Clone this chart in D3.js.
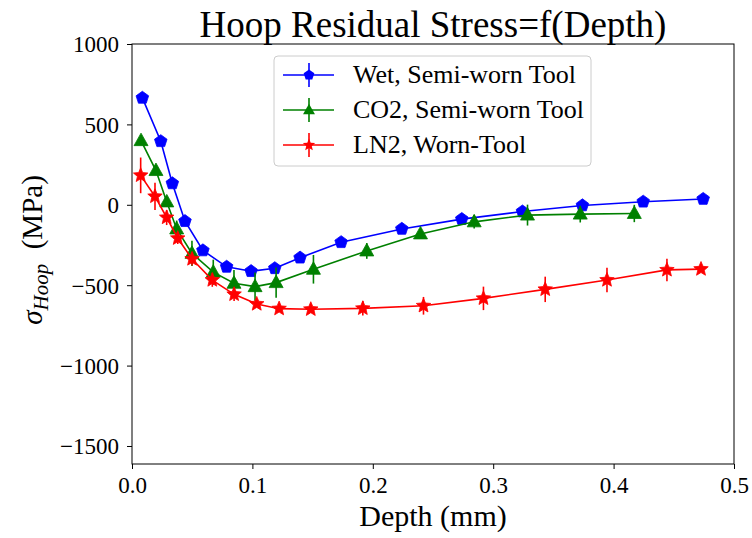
<!DOCTYPE html>
<html><head><meta charset="utf-8">
<script src="https://cdn.jsdelivr.net/npm/d3@7"></script>
<style>body{margin:0;background:#fff}svg{display:block}text{font-family:"Liberation Serif","DejaVu Serif",serif;fill:#000}</style>
</head><body><svg id="c" width="752" height="538"></svg>
<script>
const wetX = [0.0086,0.0239,0.0335,0.0440,0.0589,0.0786,0.0989,0.1186,0.1396,0.1737,0.2241,0.2739,0.3243,0.3741,0.4246,0.4744];
const wetY = [665,395,133,-102,-284,-386,-413,-395,-329,-233,-150,-89,-42,-4,19,36];
const wetErr = [15,15,15,15,12,12,12,12,25,12,12,12,12,12,12,12];
const co2X = [0.0075,0.0199,0.0289,0.0371,0.0498,0.0675,0.0847,0.1022,0.1197,0.1507,0.1950,0.2396,0.2842,0.3285,0.3723,0.4172];
const co2Y = [399,213,18,-150,-302,-419,-488,-509,-484,-401,-287,-181,-106,-64,-58,-54];
const co2Err = [15,15,20,52,78,78,83,88,94,89,49,20,42,65,52,54];
const ln2X = [0.0072,0.0191,0.0288,0.0380,0.0499,0.0667,0.0848,0.1036,0.1222,0.1485,0.1917,0.2421,0.2919,0.3432,0.3945,0.4443,0.4726];
const ln2Y = [183,52,-79,-208,-337,-468,-557,-617,-646,-650,-644,-628,-582,-526,-468,-405,-400];
const ln2Err = [111,85,47,36,40,42,42,15,10,10,45,55,73,79,76,70,12];
const xTicks = [0.0,0.1,0.2,0.3,0.4,0.5];
const yTicks = [1000,500,0,-500,-1000,-1500];
const seriesNames = ["Wet, Semi-worn Tool","CO2, Semi-worn Tool","LN2, Worn-Tool"];
const seriesColors = ["#0000ff","#008000","#ff0000"];
const seriesShapes = ["pentagon","triangle","star"];

const svg = d3.select("#c");
const L=132,R=734,T=44,B=464;
const x = d3.scaleLinear().domain([0,0.5]).range([L,R]);
const y = d3.scaleLinear().domain([-1612,1000]).range([B,T]);

function poly(n, r, inner){
  const pts=[];
  const k = inner ? 2*n : n;
  for(let i=0;i<k;i++){
    const a = -Math.PI/2 + i*Math.PI*2/k;
    const rr = inner ? (i%2===0? r : r*inner) : r;
    pts.push([rr*Math.cos(a), rr*Math.sin(a)]);
  }
  return "M"+pts.map(p=>p[0].toFixed(2)+","+p[1].toFixed(2)).join("L")+"Z";
}
const shapePath = {
  pentagon: poly(5,6.6),
  triangle: "M0,-7.5L7,5L-7,5Z",
  star: poly(5,7.6,0.45)
};

const series = [
  {xs:wetX, ys:wetY, es:wetErr},
  {xs:co2X, ys:co2Y, es:co2Err},
  {xs:ln2X, ys:ln2Y, es:ln2Err}
];

const plot = svg.append("g");
series.forEach((s,i)=>{
  const data = s.xs.map((v,j)=>({x:v,y:s.ys[j],e:s.es[j]}));
  const g = plot.append("g");
  g.selectAll("line.err").data(data).enter().append("line")
    .attr("x1",d=>x(d.x)).attr("x2",d=>x(d.x))
    .attr("y1",d=>y(d.y-d.e)).attr("y2",d=>y(d.y+d.e))
    .attr("stroke",seriesColors[i]).attr("stroke-width",1.6);
  g.append("path").datum(data)
    .attr("d",d3.line().x(d=>x(d.x)).y(d=>y(d.y)))
    .attr("fill","none").attr("stroke",seriesColors[i]).attr("stroke-width",1.6);
  g.selectAll("path.m").data(data).enter().append("path")
    .attr("d",shapePath[seriesShapes[i]])
    .attr("transform",d=>`translate(${x(d.x)},${y(d.y)})`)
    .attr("fill",seriesColors[i]).attr("stroke",seriesColors[i]).attr("stroke-width",0.8);
});

// frame
svg.append("rect").attr("x",L).attr("y",T).attr("width",R-L).attr("height",B-T)
  .attr("fill","none").attr("stroke","#000").attr("stroke-width",1);

// axes
const xa = svg.append("g").attr("transform",`translate(0,${B})`)
  .call(d3.axisBottom(x).tickValues(xTicks).tickFormat(d3.format(".1f")).tickSize(5).tickSizeOuter(0));
xa.select(".domain").remove();
xa.selectAll("text").attr("font-size",23).attr("y",9).attr("dy","0.85em").attr("font-family","Liberation Serif");
const ya = svg.append("g").attr("transform",`translate(${L},0)`)
  .call(d3.axisLeft(y).tickValues(yTicks).tickFormat(d=>d<0?"\u2212"+Math.abs(d):d).tickSize(5).tickSizeOuter(0));
ya.select(".domain").remove();
ya.selectAll("text").attr("font-size",23).attr("dy","0.34em").attr("x",-13).attr("font-family","Liberation Serif");

// title & labels
svg.append("text").attr("x",(L+R)/2).attr("y",37).attr("text-anchor","middle")
  .attr("font-size",37).text("Hoop Residual Stress=f(Depth)");
svg.append("text").attr("x",(L+R)/2).attr("y",526).attr("text-anchor","middle")
  .attr("font-size",30).text("Depth (mm)");
const yl = svg.append("text").attr("transform",`translate(42,250) rotate(-90)`).attr("text-anchor","middle").attr("font-size",29);
yl.append("tspan").attr("font-style","italic").text("σ");
yl.append("tspan").attr("font-style","italic").attr("font-size",21).attr("dy",6).text("Hoop");
yl.append("tspan").attr("dy",-6).text("\u2002(MPa)");

// legend
const lg = svg.append("g");
lg.append("rect").attr("x",274).attr("y",56).attr("width",317).attr("height",110).attr("rx",4)
  .attr("fill","#fff").attr("fill-opacity",0.8).attr("stroke","#cccccc").attr("stroke-width",1);
seriesNames.forEach((n,i)=>{
  const cy = 75 + i*35;
  lg.append("line").attr("x1",283).attr("x2",334).attr("y1",cy).attr("y2",cy).attr("stroke",seriesColors[i]).attr("stroke-width",1.6);
  lg.append("line").attr("x1",309).attr("x2",309).attr("y1",cy-12).attr("y2",cy+12).attr("stroke",seriesColors[i]).attr("stroke-width",1.6);
  lg.append("path").attr("d",shapePath[seriesShapes[i]]).attr("transform",`translate(309,${cy}) scale(0.85)`).attr("fill",seriesColors[i]);
  lg.append("text").attr("x",353).attr("y",cy+8).attr("font-size",26).text(n);
});
</script></body></html>
